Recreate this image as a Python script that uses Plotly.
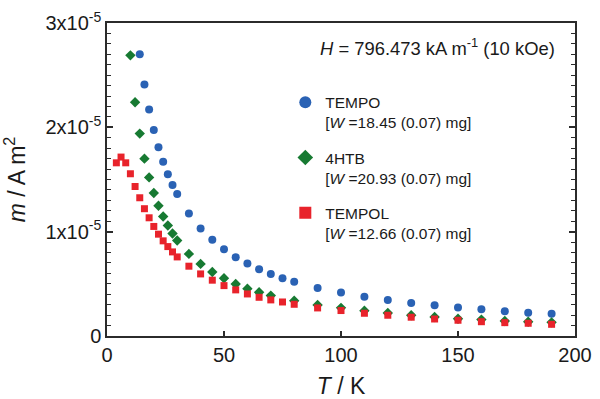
import plotly.graph_objects as go

# ---- data ----
T_tempo = [14, 16, 18, 20, 22, 24, 26, 28, 30, 35, 40, 45, 50, 55, 60, 65, 70, 75, 80,
           90, 100, 110, 120, 130, 140, 150, 160, 170, 180, 190]
m_tempo = [2.70, 2.41, 2.17, 1.975, 1.81, 1.67, 1.55, 1.447, 1.36, 1.175, 1.03, 0.922, 0.832,
           0.755, 0.694, 0.640, 0.595, 0.554, 0.521, 0.461, 0.416, 0.377, 0.346, 0.317,
           0.295, 0.272, 0.256, 0.237, 0.224, 0.214]

T_4htb = [10, 12, 14, 16, 18, 20, 22, 24, 26, 28, 30, 35, 40, 45, 50, 55, 60, 65, 70, 80,
          90, 100, 110, 120, 130, 140, 150, 160, 170, 180, 190]
m_4htb = [2.69, 2.24, 1.94, 1.70, 1.52, 1.37, 1.248, 1.145, 1.059, 0.982, 0.915, 0.787,
          0.691, 0.614, 0.554, 0.499, 0.454, 0.419, 0.387, 0.339, 0.298, 0.270, 0.243,
          0.221, 0.199, 0.182, 0.166, 0.157, 0.144, 0.137, 0.131]

T_tempol = [4, 6, 8, 10, 12, 14, 16, 18, 20, 22, 24, 26, 28, 30, 35, 40, 45, 50, 55, 60,
            65, 70, 75, 80, 90, 100, 110, 120, 130, 140, 150, 160, 170, 180, 190]
m_tempol = [1.66, 1.715, 1.66, 1.555, 1.433, 1.325, 1.22, 1.133, 1.05, 0.976, 0.912, 0.857,
            0.806, 0.758, 0.669, 0.595, 0.535, 0.483, 0.442, 0.403, 0.371, 0.346, 0.326,
            0.304, 0.269, 0.244, 0.218, 0.199, 0.180, 0.163, 0.151, 0.137, 0.128, 0.122,
            0.112]

SCALE = 1e-5
y_ticks = [0, 1e-5, 2e-5, 3e-5]
y_ticktext = ["0", "1x10<sup>-5</sup>", "2x10<sup>-5</sup>", "3x10<sup>-5</sup>"]
x_ticks = [0, 50, 100, 150, 200]

names = ["TEMPO<br>[<i>W</i> =18.45 (0.07) mg]",
         "4HTB<br>[<i>W</i> =20.93 (0.07) mg]",
         "TEMPOL<br>[<i>W</i> =12.66 (0.07) mg]"]
colors = ["#2a62b4", "#177a32", "#e8232b"]
symbols = ["circle", "diamond", "square"]
sizes = [8, 8, 7]

FONT = "Liberation Sans, Arial, sans-serif"

fig = go.Figure()
for T, m, nm, c, s, sz in zip([T_tempo, T_4htb, T_tempol], [m_tempo, m_4htb, m_tempol],
                              names, colors, symbols, sizes):
    fig.add_trace(go.Scatter(
        x=T, y=[v * SCALE for v in m], mode="markers", name=nm, legendgroup=nm,
        marker=dict(color=c, symbol=s, size=sz, line=dict(width=0)),
    ))

fig.update_layout(
    width=600, height=399,
    margin=dict(l=107, r=25, t=23, b=63),
    paper_bgcolor="white", plot_bgcolor="white",
    font=dict(family=FONT, color="#1a1a1a"),
    showlegend=True,
    legend=dict(x=0.381, y=0.80, xanchor="left", yanchor="top",
                bgcolor="rgba(0,0,0,0)", font=dict(size=15.5, family=FONT),
                valign="top", itemsizing="constant", tracegroupgap=12,
                itemwidth=30),
    annotations=[dict(
        text="<i>H</i> = 796.473 kA m<sup>-1</sup> (10 kOe)",
        xref="paper", yref="paper", x=0.962, y=0.922, xanchor="right", yanchor="middle",
        showarrow=False, font=dict(size=18.4, family=FONT, color="#1a1a1a"))],
)
fig.update_xaxes(
    range=[0, 200], tickvals=x_ticks, ticks="inside", ticklen=5, tickwidth=1.5,
    tickcolor="#2b2b2b", showline=True, linecolor="#2b2b2b", linewidth=1.5,
    mirror=True, showgrid=False, zeroline=False, automargin=False,
    tickfont=dict(size=20, family=FONT),
    title=dict(text="<i>T</i> / K", font=dict(size=23, family=FONT), standoff=14),
)
fig.update_yaxes(
    range=[0, 3e-5], tickvals=y_ticks, ticktext=y_ticktext, ticks="inside", ticklen=6,
    tickwidth=1.5, tickcolor="#2b2b2b", showline=True, linecolor="#2b2b2b", linewidth=1.5,
    mirror="ticks", showgrid=False, zeroline=False, automargin=False,
    tickfont=dict(size=20, family=FONT),
    minor=dict(dtick=1e-6, ticks="inside", ticklen=4, tickwidth=1, tickcolor="#2b2b2b",
               showgrid=False),
    title=dict(text="<i>m</i> / A m<sup>2</sup>", font=dict(size=23, family=FONT), standoff=15),
)

fig.write_html("out.html", config={"displayModeBar": False},
               post_script="document.body.style.margin='0';")
